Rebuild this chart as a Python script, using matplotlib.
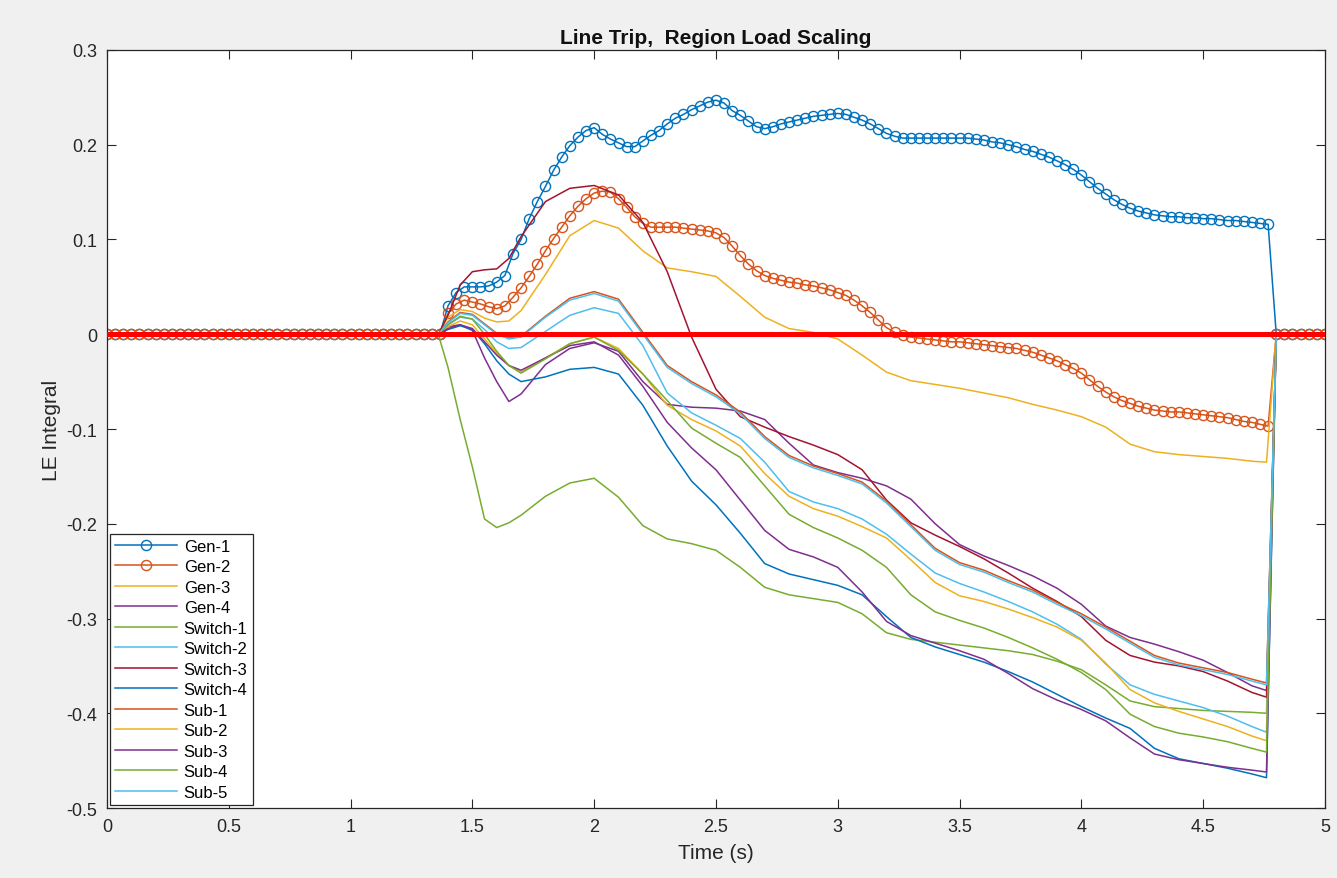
import numpy as np
import matplotlib
matplotlib.use("Agg")
import matplotlib.pyplot as plt

plt.rcParams['font.family'] = ['Liberation Sans', 'DejaVu Sans']
plt.rcParams['axes.unicode_minus'] = False

# ---------------- data ----------------
TITLE = "Line Trip,  Region Load Scaling"
XLABEL = "Time (s)"
YLABEL = "LE Integral"
X_TICKS = [0, 0.5, 1, 1.5, 2, 2.5, 3, 3.5, 4, 4.5, 5]
X_TICK_LABELS = ["0", "0.5", "1", "1.5", "2", "2.5", "3", "3.5", "4", "4.5", "5"]
Y_TICKS = [-0.5, -0.4, -0.3, -0.2, -0.1, 0, 0.1, 0.2, 0.3]
Y_TICK_LABELS = ["-0.5", "-0.4", "-0.3", "-0.2", "-0.1", "0", "0.1", "0.2", "0.3"]

# sample step of the simulation output (s) used by the marker series
T_STEP = 1.0 / 30.0
PRE_ZEROS = 42    # samples at t = 0 ... 1.3667
POST_ZEROS = 7    # samples at t = 4.80 ... 5.00
GEN1_DYN = [  # samples from t = 1.40 to 4.7667
    0.030, 0.044, 0.050, 0.050, 0.050, 0.051, 0.055, 0.062, 0.085, 0.100,
    0.122, 0.140, 0.156, 0.173, 0.187, 0.199, 0.208, 0.215, 0.218, 0.211,
    0.206, 0.202, 0.198, 0.198, 0.204, 0.210, 0.215, 0.222, 0.228, 0.232,
    0.237, 0.241, 0.245, 0.247, 0.244, 0.236, 0.231, 0.225, 0.219, 0.217,
    0.219, 0.222, 0.224, 0.226, 0.228, 0.230, 0.231, 0.232, 0.233, 0.232,
    0.229, 0.226, 0.222, 0.217, 0.212, 0.209, 0.207, 0.207, 0.207, 0.207,
    0.207, 0.207, 0.207, 0.207, 0.207, 0.206, 0.205, 0.203, 0.202, 0.200,
    0.198, 0.195, 0.193, 0.190, 0.187, 0.183, 0.179, 0.174, 0.168, 0.161,
    0.154, 0.148, 0.142, 0.137, 0.133, 0.130, 0.128, 0.126, 0.125, 0.124,
    0.124, 0.123, 0.123, 0.122, 0.122, 0.121, 0.120, 0.120, 0.119, 0.118,
    0.117, 0.116,
]
GEN2_DYN = [  # samples from t = 1.40 to 4.7667
    0.022, 0.032, 0.036, 0.034, 0.032, 0.029, 0.027, 0.030, 0.039, 0.049,
    0.061, 0.074, 0.088, 0.101, 0.113, 0.125, 0.135, 0.143, 0.149, 0.151,
    0.150, 0.143, 0.134, 0.124, 0.117, 0.113, 0.113, 0.113, 0.113, 0.112,
    0.111, 0.110, 0.109, 0.107, 0.102, 0.093, 0.083, 0.074, 0.067, 0.062,
    0.059, 0.057, 0.055, 0.054, 0.052, 0.051, 0.049, 0.047, 0.044, 0.041,
    0.036, 0.030, 0.023, 0.015, 0.007, 0.002, -0.001, -0.003, -0.004, -0.005,
    -0.006, -0.007, -0.008, -0.008, -0.009, -0.010, -0.011, -0.012, -0.013, -0.014,
    -0.015, -0.017, -0.019, -0.022, -0.025, -0.028, -0.032, -0.036, -0.041, -0.048,
    -0.055, -0.061, -0.066, -0.070, -0.073, -0.076, -0.078, -0.080, -0.081, -0.082,
    -0.082, -0.083, -0.084, -0.085, -0.086, -0.087, -0.088, -0.090, -0.092, -0.093,
    -0.095, -0.097,
]

# knot times for the plain line series
T_LINE = [1.36, 1.40, 1.45, 1.50, 1.55, 1.60, 1.65, 1.70, 1.80, 1.90,
          2.00, 2.10, 2.20, 2.30, 2.40, 2.50, 2.60, 2.70, 2.80, 2.90,
          3.00, 3.10, 3.20, 3.30, 3.40, 3.50, 3.60, 3.70, 3.80, 3.90,
          4.00, 4.10, 4.20, 4.30, 4.40, 4.50, 4.60, 4.70, 4.76]
T_START = 0.0
T_RESET = 4.80
T_END = 5.0

GEN3 = [0, 0.018, 0.026, 0.024, 0.017, 0.013, 0.014, 0.025, 0.063, 0.104,
        0.120, 0.112, 0.088, 0.070, 0.066, 0.061, 0.040, 0.018, 0.006, 0.002,
        -0.005, -0.022, -0.040, -0.049, -0.053, -0.057, -0.062, -0.067, -0.074, -0.080,
        -0.087, -0.098, -0.116, -0.124, -0.127, -0.129, -0.131, -0.134, -0.135]
GEN4 = [0, 0.008, 0.010, 0.004, -0.025, -0.050, -0.071, -0.063, -0.032, -0.015,
        -0.009, -0.018, -0.050, -0.074, -0.077, -0.078, -0.081, -0.090, -0.115, -0.138,
        -0.146, -0.152, -0.160, -0.174, -0.200, -0.222, -0.234, -0.244, -0.255, -0.268,
        -0.285, -0.308, -0.320, -0.327, -0.335, -0.344, -0.357, -0.371, -0.376]
SWITCH1 = [0, -0.035, -0.090, -0.140, -0.195, -0.204, -0.199, -0.191, -0.171, -0.157,
           -0.152, -0.172, -0.202, -0.216, -0.221, -0.228, -0.246, -0.267, -0.275, -0.279,
           -0.283, -0.295, -0.315, -0.322, -0.325, -0.328, -0.331, -0.334, -0.338, -0.345,
           -0.354, -0.370, -0.387, -0.393, -0.395, -0.397, -0.398, -0.399, -0.400]
SWITCH2 = [0, 0.010, 0.018, 0.016, 0.005, -0.008, -0.015, -0.014, 0.003, 0.020,
           0.028, 0.022, -0.012, -0.062, -0.083, -0.096, -0.110, -0.135, -0.166, -0.177,
           -0.184, -0.195, -0.211, -0.232, -0.252, -0.263, -0.272, -0.282, -0.293, -0.306,
           -0.322, -0.348, -0.370, -0.380, -0.387, -0.394, -0.403, -0.414, -0.420]
SWITCH3 = [0, 0.020, 0.052, 0.066, 0.068, 0.069, 0.080, 0.103, 0.140, 0.154,
           0.157, 0.147, 0.118, 0.066, -0.003, -0.058, -0.087, -0.098, -0.108, -0.117,
           -0.127, -0.143, -0.175, -0.199, -0.212, -0.224, -0.237, -0.252, -0.268, -0.282,
           -0.298, -0.323, -0.339, -0.346, -0.350, -0.356, -0.366, -0.378, -0.383]
SWITCH4 = [0, 0.005, 0.009, 0.005, -0.010, -0.028, -0.042, -0.050, -0.045, -0.037,
           -0.035, -0.042, -0.075, -0.118, -0.155, -0.180, -0.210, -0.242, -0.253, -0.259,
           -0.265, -0.275, -0.298, -0.320, -0.330, -0.338, -0.346, -0.356, -0.367, -0.380,
           -0.393, -0.405, -0.416, -0.437, -0.448, -0.453, -0.458, -0.464, -0.468]
SUB1 = [0, 0.013, 0.023, 0.021, 0.011, 0.001, -0.004, -0.002, 0.019, 0.038,
        0.045, 0.037, 0.002, -0.033, -0.050, -0.064, -0.082, -0.108, -0.128, -0.139,
        -0.147, -0.156, -0.176, -0.201, -0.226, -0.241, -0.249, -0.260, -0.270, -0.283,
        -0.295, -0.309, -0.324, -0.339, -0.347, -0.352, -0.357, -0.364, -0.368]
SUB2 = [0, 0.008, 0.014, 0.010, -0.005, -0.020, -0.033, -0.040, -0.025, -0.010,
        -0.003, -0.015, -0.042, -0.075, -0.090, -0.102, -0.118, -0.147, -0.171, -0.184,
        -0.192, -0.203, -0.215, -0.238, -0.262, -0.276, -0.282, -0.290, -0.299, -0.309,
        -0.323, -0.347, -0.375, -0.389, -0.398, -0.406, -0.414, -0.424, -0.429]
SUB3 = [0, 0.006, 0.010, 0.006, -0.008, -0.022, -0.033, -0.038, -0.025, -0.012,
        -0.008, -0.022, -0.055, -0.093, -0.120, -0.143, -0.175, -0.207, -0.227, -0.235,
        -0.246, -0.272, -0.303, -0.318, -0.326, -0.334, -0.343, -0.358, -0.374, -0.386,
        -0.396, -0.408, -0.426, -0.443, -0.449, -0.453, -0.457, -0.460, -0.462]
SUB4 = [0, 0.010, 0.019, 0.016, 0.000, -0.018, -0.033, -0.041, -0.026, -0.010,
        -0.003, -0.017, -0.042, -0.070, -0.099, -0.115, -0.130, -0.160, -0.190, -0.204,
        -0.215, -0.228, -0.246, -0.275, -0.293, -0.302, -0.310, -0.320, -0.331, -0.343,
        -0.357, -0.375, -0.401, -0.414, -0.421, -0.425, -0.430, -0.437, -0.441]
SUB5 = [0, 0.012, 0.022, 0.020, 0.010, 0.000, -0.005, -0.003, 0.018, 0.036,
        0.043, 0.035, 0.000, -0.035, -0.052, -0.066, -0.084, -0.110, -0.130, -0.141,
        -0.149, -0.158, -0.178, -0.203, -0.228, -0.243, -0.251, -0.262, -0.272, -0.285,
        -0.297, -0.311, -0.326, -0.341, -0.349, -0.354, -0.359, -0.366, -0.370]

LINE_LABELS = ["Gen-3", "Gen-4", "Switch-1", "Switch-2", "Switch-3", "Switch-4",
               "Sub-1", "Sub-2", "Sub-3", "Sub-4", "Sub-5"]
LINE_SERIES = [GEN3, GEN4, SWITCH1, SWITCH2, SWITCH3, SWITCH4,
               SUB1, SUB2, SUB3, SUB4, SUB5]

ZERO_T = [0, 5]
ZERO_V = [0, 0]

# ---------------- style ----------------
MATLAB_COLORS = ['#0072BD', '#D95319', '#EDB120', '#7E2F8E', '#77AC30', '#4DBEEE', '#A2142F']
TXT = '#262626'

fig = plt.figure(figsize=(13.37, 8.79), dpi=100, facecolor='#f0f0f0')
ax = fig.add_axes([0.080, 0.0796, 0.911, 0.8624])
ax.set_facecolor('white')

n_mark = PRE_ZEROS + len(GEN1_DYN) + POST_ZEROS
t_marker = np.arange(n_mark) * T_STEP
gen1 = np.concatenate([np.zeros(PRE_ZEROS), GEN1_DYN, np.zeros(POST_ZEROS)])
gen2 = np.concatenate([np.zeros(PRE_ZEROS), GEN2_DYN, np.zeros(POST_ZEROS)])

lw = 1.1
ax.plot(t_marker, gen1, '-o', color=MATLAB_COLORS[0], lw=lw, ms=7.3,
        mfc='none', mew=1.0, label='Gen-1')
ax.plot(t_marker, gen2, '-o', color=MATLAB_COLORS[1], lw=lw, ms=7.3,
        mfc='none', mew=1.0, label='Gen-2')

t_line = np.concatenate([[T_START], T_LINE, [T_RESET, T_END]])
for i, (lab, vals) in enumerate(zip(LINE_LABELS, LINE_SERIES)):
    color = MATLAB_COLORS[(i + 2) % len(MATLAB_COLORS)]
    v = np.concatenate([[0.0], vals, [0.0, 0.0]])
    ax.plot(t_line, v, '-', color=color, lw=lw, label=lab)

ax.plot(ZERO_T, ZERO_V, '-', color='#ff0000', lw=3.6, zorder=10)

ax.set_xlim(0, 5)
ax.set_ylim(-0.5, 0.3)
ax.set_xticks(X_TICKS)
ax.set_xticklabels(X_TICK_LABELS)
ax.set_yticks(Y_TICKS)
ax.set_yticklabels(Y_TICK_LABELS)
ax.tick_params(direction='in', length=6.5, width=0.8, top=True, right=True,
               labelsize=13, colors=TXT, pad=7)
for s in ax.spines.values():
    s.set_color(TXT)
    s.set_linewidth(0.9)

ax.set_title(TITLE, fontsize=15, fontweight='bold', pad=5, color='#111111')
ax.set_xlabel(XLABEL, fontsize=15, color=TXT, labelpad=6)
ax.set_ylabel(YLABEL, fontsize=15, color=TXT, labelpad=4)

leg = ax.legend(loc='lower left', fontsize=12, handlelength=3.7, labelspacing=0.33,
                borderaxespad=0.2, fancybox=False, framealpha=1, edgecolor=TXT,
                borderpad=0.3, handletextpad=0.4)
leg.get_frame().set_linewidth(0.9)

fig.savefig('out.png', dpi=100, facecolor=fig.get_facecolor())
